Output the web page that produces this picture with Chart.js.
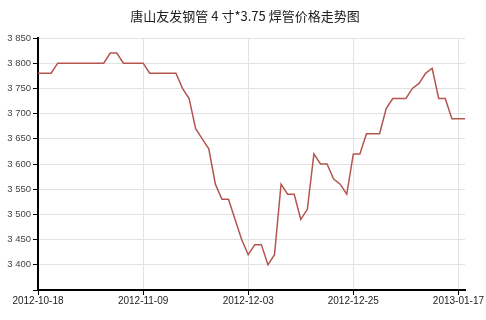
<!DOCTYPE html>
<html>
<head>
<meta charset="utf-8">
<script src="https://cdn.jsdelivr.net/npm/chart.js@4"></script>
<style>
  html, body { margin: 0; padding: 0; background: #fff; }
  #wrap { width: 486px; height: 320px; }
</style>
</head>
<body>
<div id="wrap"><canvas id="priceChart" width="486" height="320"></canvas></div>
<script>
// trading days (weekdays, 2013-01-01 closed)
const dates = [
    '2012-10-18', '2012-10-19', '2012-10-22', '2012-10-23', '2012-10-24', '2012-10-25', '2012-10-26',
    '2012-10-29', '2012-10-30', '2012-10-31', '2012-11-01', '2012-11-02', '2012-11-05', '2012-11-06',
    '2012-11-07', '2012-11-08', '2012-11-09', '2012-11-12', '2012-11-13', '2012-11-14', '2012-11-15',
    '2012-11-16', '2012-11-19', '2012-11-20', '2012-11-21', '2012-11-22', '2012-11-23', '2012-11-26',
    '2012-11-27', '2012-11-28', '2012-11-29', '2012-11-30', '2012-12-03', '2012-12-04', '2012-12-05',
    '2012-12-06', '2012-12-07', '2012-12-10', '2012-12-11', '2012-12-12', '2012-12-13', '2012-12-14',
    '2012-12-17', '2012-12-18', '2012-12-19', '2012-12-20', '2012-12-21', '2012-12-24', '2012-12-25',
    '2012-12-26', '2012-12-27', '2012-12-28', '2012-12-31', '2013-01-02', '2013-01-03', '2013-01-04',
    '2013-01-07', '2013-01-08', '2013-01-09', '2013-01-10', '2013-01-11', '2013-01-14', '2013-01-15',
    '2013-01-16', '2013-01-17', '2013-01-18'
];

const prices = [
    3780, 3780, 3780, 3800, 3800, 3800, 3800, 3800, 3800, 3800, 3800,
    3820, 3820, 3800, 3800, 3800, 3800, 3780, 3780, 3780, 3780, 3780,
    3750, 3730, 3670, 3650, 3630, 3560, 3530, 3530, 3490, 3450, 3420,
    3440, 3440, 3400, 3420, 3560, 3540, 3540, 3490, 3510, 3620, 3600,
    3600, 3570, 3560, 3540, 3620, 3620, 3660, 3660, 3660, 3710, 3730,
    3730, 3730, 3750, 3760, 3780, 3790, 3730, 3730, 3690, 3690, 3690
];

const shownDates = ['2012-10-18', '2012-11-09', '2012-12-03', '2012-12-25', '2013-01-17'];
const yMin = 3350;
const yMax = 3850;
const yStep = 50;

const chartTitle = '唐山友发钢管 4 寸*3.75 焊管价格走势图';

const titlePlugin = {
    id: 'topTitle',
    afterDraw(chart) {
        const ctx = chart.ctx;
        ctx.save();
        ctx.font = '13px "Noto Sans CJK SC", sans-serif';
        ctx.fillStyle = '#222';
        ctx.textAlign = 'center';
        ctx.textBaseline = 'middle';
        ctx.fillText(chartTitle, 245, 16);
        ctx.restore();
    }
};

function spaced(v) {
    const s = String(v);
    return s.length > 3 ? s.slice(0, -3) + ' ' + s.slice(-3) : s;
}

new Chart(document.getElementById('priceChart'), {
    type: 'line',
    data: {
        labels: dates,
        datasets: [{
            data: prices,
            borderColor: '#b4564f',
            borderWidth: 1.5,
            pointRadius: 0,
            tension: 0,
            fill: false
        }]
    },
    options: {
        responsive: false,
        animation: false,
        layout: { padding: { top: 38, right: 21, left: 0, bottom: 13 } },
        plugins: { legend: { display: false }, tooltip: { enabled: false } },
        scales: {
            x: {
                offset: false,
                border: { color: '#000', width: 2 },
                grid: { color: '#e2e2e2', tickColor: '#000', tickLength: 5, tickWidth: 1 },
                ticks: {
                    autoSkip: false,
                    maxRotation: 0,
                    padding: 0,
                    color: '#222',
                    font: { family: 'Arial, "Liberation Sans"', size: 10 },
                    callback(value, index) {
                        const d = dates[index];
                        return shownDates.includes(d) ? d : null;
                    }
                }
            },
            y: {
                min: yMin,
                max: yMax,
                border: { color: '#000', width: 2 },
                grid: { color: '#e2e2e2', tickColor: '#000', tickLength: 5, tickWidth: 1 },
                afterFit(scale) { scale.width = 38; },
                ticks: {
                    stepSize: yStep,
                    padding: 2,
                    color: '#444',
                    font: { family: 'Arial, "Liberation Sans"', size: 9.5 },
                    callback(value) {
                        return value === yMin ? '' : spaced(value);
                    }
                }
            }
        }
    },
    plugins: [titlePlugin]
});
</script>
</body>
</html>
